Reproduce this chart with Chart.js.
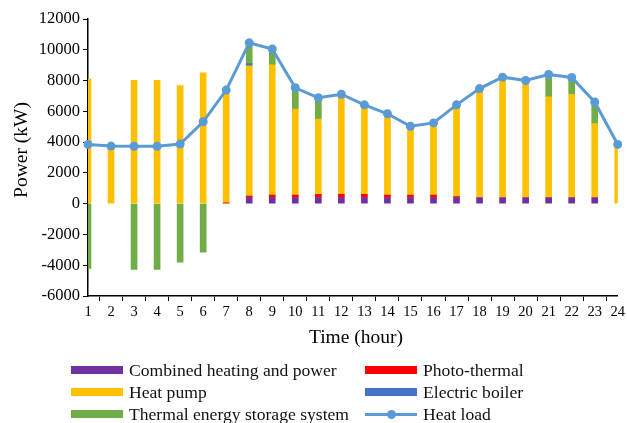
<!DOCTYPE html>
<html>
<head>
<meta charset="utf-8">
<script src="https://cdn.jsdelivr.net/npm/chart.js@4/dist/chart.umd.min.js"></script>
<style>
html,body{margin:0;padding:0;background:#fff;}
#wrap{position:relative;width:627px;height:423px;}
canvas{position:absolute;left:0;top:0;}
.lg{position:absolute;font-family:"Liberation Serif","Times New Roman",serif;font-size:17.6px;color:#111;line-height:20px;white-space:nowrap;}
.sw{position:absolute;height:8px;width:52px;}
</style>
</head>
<body>
<div id="wrap">
<canvas id="c" width="627" height="423"></canvas>
</div>
<script>
const hours = ["1","2","3","4","5","6","7","8","9","10","11","12","13","14","15","16","17","18","19","20","21","22","23","24"];
const chp       = [null,null,null,null,null,null,null,400,400,400,400,400,400,400,400,400,400,400,400,400,400,400,400,null];
const photo     = [null,null,null,null,null,null,60,100,150,150,200,200,200,150,150,150,60,null,null,null,null,null,null,null];
const heatPump  = [8100,3700,8020,8020,7680,8500,7100,8450,8480,5600,4900,6350,5700,5150,4350,4550,5800,6930,7620,7410,6540,6700,4810,3750];
const elecBoiler= [null,null,null,null,null,null,null,150,null,null,null,null,null,null,null,null,null,null,null,null,null,null,null,null];
const storage   = [-4200,null,-4280,-4280,-3800,-3150,null,1350,1050,1400,1400,null,null,null,null,null,null,null,null,null,1400,1100,1400,null];
const heatLoad  = [3850,3740,3730,3730,3870,5320,7380,10450,10050,7530,6880,7110,6420,5840,5030,5250,6420,7480,8220,8000,8390,8200,6610,3850];
const yTicks = [-6000,-4000,-2000,0,2000,4000,6000,8000,10000,12000];

const serif = '"Liberation Serif","Times New Roman",serif';
const colors = {chp:'#7030A0', photo:'#FF0000', hp:'#FFC000', eb:'#4472C4', tes:'#70AD47', load:'#5B9BD5'};

const titles = {
  id:'titles',
  afterDraw(chart){
    const ctx = chart.ctx;
    ctx.save();
    ctx.fillStyle = '#000';
    ctx.font = '19.5px ' + serif;
    ctx.textAlign = 'center';
    ctx.textBaseline = 'middle';
    ctx.fillText('Time (hour)', 356, 338);
    ctx.translate(22, 150);
    ctx.rotate(-Math.PI/2);
    ctx.fillText('Power (kW)', 0, 0);
    ctx.restore();
  }
};

function bar(label, data, color){
  return {type:'bar', label, data, backgroundColor:color, borderWidth:0, barThickness:6, stack:'s', order:1};
}

new Chart(document.getElementById('c'), {
  data:{
    labels: hours,
    datasets:[
      bar('Combined heating and power', chp, colors.chp),
      bar('Photo-thermal', photo, colors.photo),
      bar('Heat pump', heatPump, colors.hp),
      bar('Electric boiler', elecBoiler, colors.eb),
      bar('Thermal energy storage system', storage, colors.tes),
      {type:'line', label:'Heat load', data:heatLoad, borderColor:colors.load, backgroundColor:colors.load,
       borderWidth:3, pointRadius:4.5, pointHoverRadius:4.5, pointBorderWidth:0, tension:0, stack:'line', order:0}
    ]
  },
  options:{
    responsive:false,
    animation:false,
    events:[],
    layout:{padding:{left:0,right:5,top:19,bottom:0}},
    plugins:{legend:{display:false}, tooltip:{enabled:false}},
    scales:{
      x:{
        type:'category',
        offset:false,
        stacked:true,
        grid:{display:true, drawOnChartArea:false, drawTicks:true, tickLength:5, color:'#000', lineWidth:1},
        border:{display:true, color:'#000', width:1.5},
        ticks:{color:'#000', font:{family:serif, size:14.5}, padding:2, maxRotation:0, autoSkip:false},
        afterFit(s){ s.height = 127; }
      },
      y:{
        stacked:true,
        min:-6000, max:12000,
        afterBuildTicks(s){ s.ticks = yTicks.map(v=>({value:v})); },
        grid:{display:true, drawOnChartArea:false, drawTicks:true, tickLength:5, color:'#000', lineWidth:1},
        border:{display:true, color:'#000', width:1.5},
        ticks:{color:'#000', font:{family:serif, size:16.5}, padding:3, callback:(v)=>String(v)},
        afterFit(s){ s.width = 88; }
      }
    }
  },
  plugins:[titles]
});

// HTML legend
const legendItems = [
  {t:'Combined heating and power', c:colors.chp, x:71, y:370},
  {t:'Photo-thermal', c:colors.photo, x:365, y:370},
  {t:'Heat pump', c:colors.hp, x:71, y:392},
  {t:'Electric boiler', c:colors.eb, x:365, y:392},
  {t:'Thermal energy storage system', c:colors.tes, x:71, y:414},
  {t:'Heat load', c:colors.load, x:365, y:414, line:true}
];
const wrap = document.getElementById('wrap');
legendItems.forEach(it=>{
  if(it.line){
    const l = document.createElement('div');
    l.style.cssText = `position:absolute;left:${it.x}px;top:${it.y-1.5}px;width:52px;height:3px;background:${it.c};`;
    wrap.appendChild(l);
    const d = document.createElement('div');
    d.style.cssText = `position:absolute;left:${it.x+26-4.5}px;top:${it.y-4.5}px;width:9px;height:9px;border-radius:50%;background:${it.c};`;
    wrap.appendChild(d);
  } else {
    const s = document.createElement('div');
    s.className='sw';
    s.style.cssText += `left:${it.x}px;top:${it.y-4}px;background:${it.c};`;
    wrap.appendChild(s);
  }
  const t = document.createElement('div');
  t.className='lg';
  t.textContent = it.t;
  t.style.left = (it.x+58)+'px';
  t.style.top = (it.y-10)+'px';
  wrap.appendChild(t);
});
</script>
</body>
</html>
